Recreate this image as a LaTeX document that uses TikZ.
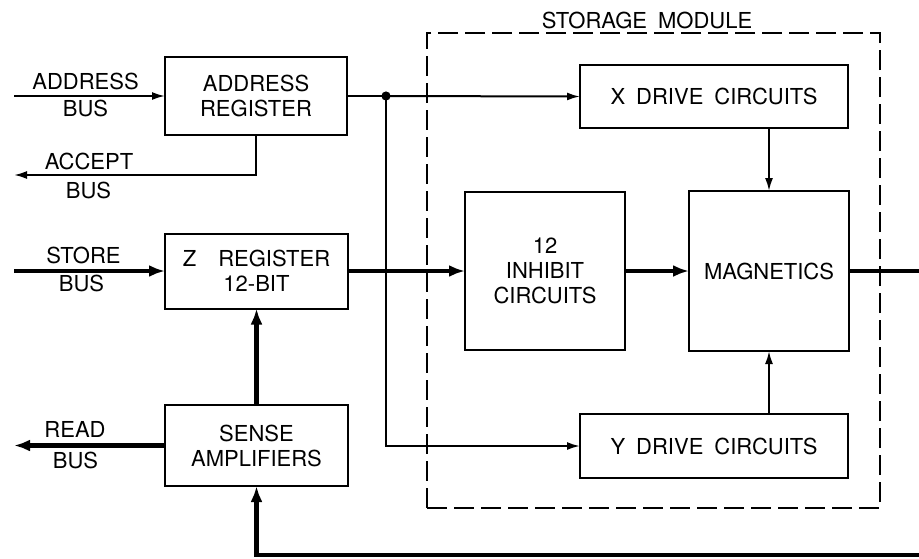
\documentclass[tikz,border=0pt]{standalone}
\usepackage{fontspec}
\setmainfont{TeX Gyre Heros}
\usetikzlibrary{arrows.meta}

\begin{document}
\begin{tikzpicture}[x=0.5pt,y=-0.5pt,
    font=\fontsize{11}{12.5}\selectfont,
    block/.style={draw,line width=1pt,align=center,inner sep=0pt,outer sep=0pt},
    thin line/.style={line width=1pt,-{Latex[length=6.5pt,width=4pt]}},
    thick line/.style={line width=2.2pt,-{Latex[length=8pt,width=6pt]}}]

\useasboundingbox (0,0) rectangle (919,558);

% Storage module
\node[draw,line width=1pt,dash pattern=on 10pt off 3.5pt,minimum width=226.5pt,minimum height=237.5pt,inner sep=0pt] (storage) at (653.5,270.5) {};
\node (storagelbl) at (647,20) {STORAGE\enspace MODULE};

% Blocks
\node[block,minimum width=91pt,minimum height=39pt] (areg) at (256,96) {ADDRESS\\REGISTER};
\node[block,minimum width=91.5pt,minimum height=37.5pt] (zreg) at (256.5,271) {Z\quad REGISTER\\12-BIT};
\node[block,minimum width=91.5pt,minimum height=40.5pt] (sense) at (256.5,445.5) {SENSE\\AMPLIFIERS};
\node[block,minimum width=134pt,minimum height=31.5pt] (xdrv) at (714,96.5) {X\enspace DRIVE\enspace CIRCUITS};
\node[block,minimum width=134pt,minimum height=32pt] (ydrv) at (714,446) {Y\enspace DRIVE\enspace CIRCUITS};
\node[block,minimum width=80pt,minimum height=79pt] (inhib) at (545,271) {12\\INHIBIT\\CIRCUITS};
\node[block,minimum width=80pt,minimum height=80pt] (magn) at (769,271) {MAGNETICS};

% Bus labels
\node (addrlbl) at (85.5,81.5) {ADDRESS};
\node (addrbus) at (85.5,108.5) {BUS};
\node (acclbl) at (89,161.5) {ACCEPT};
\node (accbus) at (88.5,190) {BUS};
\node (storelbl) at (83.5,255) {STORE};
\node (storebus) at (81.5,283.5) {BUS};
\node (readlbl) at (75,429.5) {READ};
\node (readbus) at (75.5,460.5) {BUS};

% Free ends
\coordinate (addrin) at (14,96);
\coordinate (acceptout) at (14,175);
\coordinate (storein) at (14,271);
\coordinate (readout) at (14,445.5);
\coordinate (junc) at (386,96);
\coordinate (magout) at (919,271);
\coordinate (retin) at (919,555);

% Address lines
\draw[thin line] (addrin) -- (areg.west);
\draw[thin line] (areg.south) |- (acceptout);
\draw[line width=1pt] (areg.east) -- (junc);
\fill (junc) circle (2.3pt);
\draw[thin line] (junc) -- (xdrv.west);
\draw[thin line] (junc) |- (ydrv.west);
\draw[thin line] (xdrv.south -| magn.north) -- (magn.north);
\draw[thin line] (ydrv.north -| magn.south) -- (magn.south);

% Data lines
\draw[thick line] (storein) -- (zreg.west);
\draw[thick line] (zreg.east) -- (inhib.west);
\draw[thick line] (inhib.east) -- (magn.west);
\draw[thick line,-] (magn.east) -- (magout);
\draw[thick line] (sense.north) -- (zreg.south);
\draw[thick line] (sense.west) -- (readout);
\draw[thick line] (retin) -| (sense.south);

\end{tikzpicture}
\end{document}
